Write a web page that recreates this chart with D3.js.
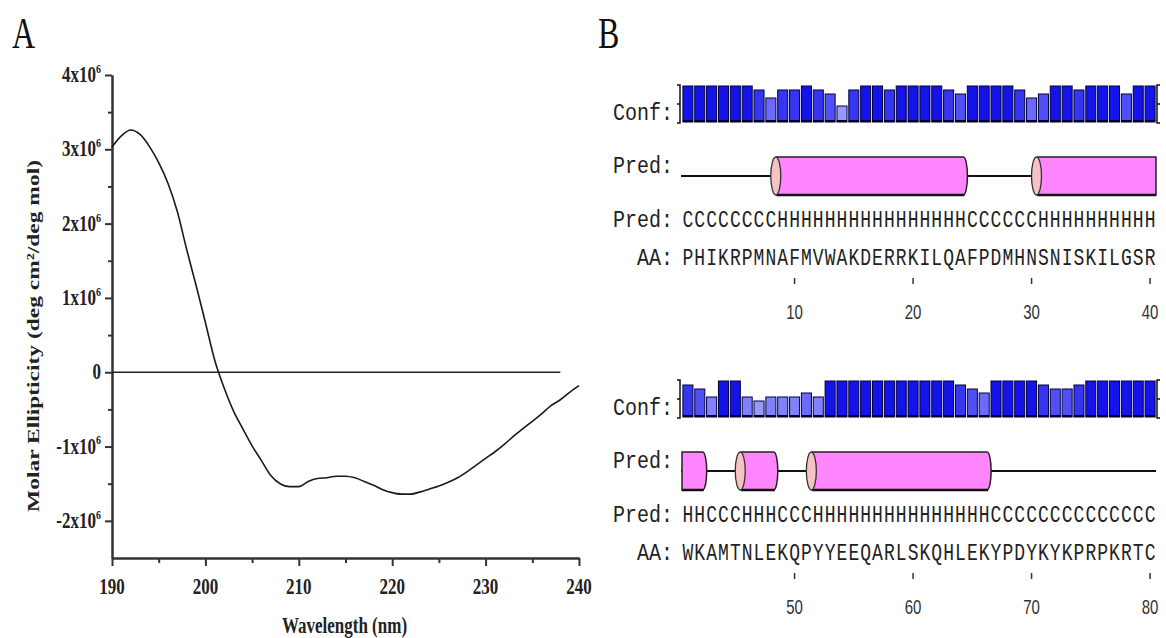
<!DOCTYPE html>
<html>
<head>
<meta charset="utf-8">
<script src="https://cdn.jsdelivr.net/npm/d3@7"></script>
<style>
  body { margin: 0; background: #fff; }
  svg { display: block; }
</style>
</head>
<body>
<svg id="fig" width="1166" height="638"></svg>
<script>
// ---- panel A data: CD spectrum ----
var wavelength = [190,191,192,193,194,195,196,197,198,199,
                  200,201,202,203,204,205,206,207,208,209,
                  210,211,212,213,214,215,216,217,218,219,
                  220,221,222,223,224,225,226,227,228,229,
                  230,231,232,233,234,235,236,237,238,239,240];
var ellipticity = [3.03e6,3.18e6,3.26e6,3.20e6,3.04e6,2.82e6,2.54e6,2.16e6,1.65e6,1.17e6,
                   0.67e6,0.16e6,-0.21e6,-0.52e6,-0.76e6,-0.99e6,-1.19e6,-1.39e6,-1.50e6,-1.54e6,
                   -1.54e6,-1.47e6,-1.43e6,-1.42e6,-1.40e6,-1.40e6,-1.42e6,-1.47e6,-1.52e6,-1.58e6,
                   -1.62e6,-1.64e6,-1.64e6,-1.61e6,-1.57e6,-1.53e6,-1.48e6,-1.42e6,-1.34e6,-1.25e6,
                   -1.16e6,-1.07e6,-0.97e6,-0.86e6,-0.76e6,-0.66e6,-0.56e6,-0.45e6,-0.37e6,-0.27e6,-0.18e6];
var xTicks = [190,200,210,220,230,240];
var xMinor = [195,205,215,225,235];
var yTicks = [-2e6,-1e6,0,1e6,2e6,3e6,4e6];
var yMinor = [-1.5e6,-0.5e6,0.5e6,1.5e6,2.5e6,3.5e6];
var zeroLine = [190, 238];

// ---- panel B data: secondary structure prediction ----
var aaRow1   = "PHIKRPMNAFMVWAKDERRKILQAFPDMHNSNISKILGSR";
var predRow1 = "CCCCCCCCHHHHHHHHHHHHHHHHCCCCCCHHHHHHHHHH";
var confRow1 = [9,9,9,9,9,9,8,6,8,8, 9,8,7,4,8,9,9,8,9,9,
                9,9,8,7,9,9,9,9,8,6, 7,9,9,8,9,9,9,7,9,9];
var tickRow1 = [10,20,30,40];
var aaRow2   = "WKAMTNLEKQPYYEEQARLSKQHLEKYPDYKYKPRPKRTC";
var predRow2 = "HHCCCHHHCCCHHHHHHHHHHHHHHHCCCCCCCCCCCCCC";
var confRow2 = [8,7,5,9,9,5,4,5,5,5, 6,5,9,9,9,9,9,9,9,9,
                9,9,9,8,7,6,9,9,9,9, 8,7,7,8,9,9,9,9,9,9];
var tickRow2 = [50,60,70,80];

var svg = d3.select("#fig");
svg.append("rect").attr("width", 1166).attr("height", 638).attr("fill", "#fff");

// text squeezed like the original bitmap (taller than wide)
function tallText(parent, x, y, sy, txt) {
  return parent.append("text")
    .attr("transform", "translate(" + x + "," + y + ") scale(1," + sy + ")")
    .text(txt);
}

// panel letters
var letters = svg.append("g")
  .attr("font-family", "'Liberation Serif', 'Times New Roman', serif")
  .attr("font-size", 32).attr("fill", "#111");
tallText(letters, 12, 48, 1.4, "A");
tallText(letters, 598, 48, 1.4, "B");

// ================= panel A =================
var x = d3.scaleLinear().domain([190, 240]).range([112, 579]);
var y = d3.scaleLinear().domain([-2.5e6, 4e6]).range([558, 75]);

var gA = svg.append("g")
  .attr("font-family", "'Liberation Serif', 'Times New Roman', serif")
  .attr("font-weight", "bold").attr("fill", "#222");

function styleAxis(sel) {
  sel.selectAll("path, line").attr("stroke", "#333").attr("stroke-width", 2);
}

// x axis, minor then major ticks
gA.append("g").attr("transform", "translate(0,558)")
  .call(d3.axisBottom(x).tickValues(xMinor).tickSize(5).tickSizeOuter(0).tickFormat(""))
  .call(styleAxis);
gA.append("g").attr("transform", "translate(0,558)")
  .call(d3.axisBottom(x).tickValues(xTicks).tickSize(8).tickSizeOuter(0).tickFormat(""))
  .call(styleAxis);

// y axis
gA.append("g").attr("transform", "translate(112,0)")
  .call(d3.axisLeft(y).tickValues(yMinor).tickSize(4).tickSizeOuter(0).tickFormat(""))
  .call(styleAxis);
gA.append("g").attr("transform", "translate(112,0)")
  .call(d3.axisLeft(y).tickValues(yTicks).tickSize(7).tickSizeOuter(0).tickFormat(""))
  .call(styleAxis);

// x tick labels
xTicks.forEach(function(v) {
  tallText(gA, x(v), 594, 1.38, v).attr("font-size", 17).attr("text-anchor", "middle");
});

// y tick labels with superscript exponent
yTicks.forEach(function(v) {
  var t = gA.append("text")
    .attr("transform", "translate(101," + (y(v) + 7) + ") scale(1,1.3)")
    .attr("font-size", 17).attr("text-anchor", "end");
  if (v === 0) { t.text("0"); return; }
  t.append("tspan").text((v / 1e6) + "x10");
  t.append("tspan").attr("font-size", 10).attr("dy", -7).text("6");
});

// axis titles
gA.append("text")
  .attr("transform", "translate(39,336) rotate(-90)")
  .attr("font-size", 17).attr("text-anchor", "middle")
  .attr("textLength", 352).attr("lengthAdjust", "spacingAndGlyphs")
  .text("Molar Ellipticity (deg cm\u00B2/deg mol)");
tallText(gA, x(215) - 1, 633, 1.35, "Wavelength (nm)")
  .attr("font-size", 17).attr("text-anchor", "middle");

// zero line
gA.append("line")
  .attr("x1", x(zeroLine[0])).attr("x2", x(zeroLine[1]))
  .attr("y1", y(0)).attr("y2", y(0))
  .attr("stroke", "#222").attr("stroke-width", 1.6);

// the spectrum
var spectrum = wavelength.map(function(w, i) { return {w: w, v: ellipticity[i]}; });
var cdLine = d3.line()
  .x(function(d) { return x(d.w); })
  .y(function(d) { return y(d.v); })
  .curve(d3.curveMonotoneX);
gA.append("path").datum(spectrum)
  .attr("d", cdLine)
  .attr("fill", "none").attr("stroke", "#1a1a1a").attr("stroke-width", 1.6);

// ================= panel B =================
var rowTop = [86, 381];
var rowLeft = 682, rowRight = 1156;
var predAll = predRow1 + predRow2;
var rows = [
  {first: 1,  aa: aaRow1, pred: predRow1, conf: confRow1, ticks: tickRow1},
  {first: 41, aa: aaRow2, pred: predRow2, conf: confRow2, ticks: tickRow2}
];

var confColor = d3.scaleLinear()
  .domain([4, 6, 8, 9])
  .range(["#9898ff", "#6a6aff", "#3535f2", "#1414ea"])
  .clamp(true);

var mono = "'Liberation Mono', 'Courier New', monospace";

rows.forEach(function(r, k) {
  var T = rowTop[k];
  var n = r.aa.length;
  var xb = d3.scaleBand().domain(d3.range(r.first, r.first + n)).range([rowLeft, rowRight]);
  var bw = xb.bandwidth();
  var cy = d3.scaleLinear().domain([0, 9]).range([T + 36, T]);
  var g = svg.append("g");

  // row labels
  var lab = g.append("g").attr("font-family", mono).attr("font-size", 20)
    .attr("fill", "#222").attr("text-anchor", "end");
  tallText(lab, 673, T + 34, 1.15, "Conf:");
  tallText(lab, 673, T + 87, 1.15, "Pred:");
  tallText(lab, 673, T + 141, 1.15, "Pred:");
  tallText(lab, 673, T + 179, 1.15, "AA:");

  // confidence brackets
  var bl = rowLeft - 2, br = rowRight + 1;
  g.append("path")
    .attr("d", "M" + (bl - 3) + "," + (T - 1) + "H" + bl + "V" + (T + 37) + "H" + (bl - 3) +
               "M" + (bl - 3) + "," + (T + 18) + "H" + bl)
    .attr("fill", "none").attr("stroke", "#111").attr("stroke-width", 1.5);
  g.append("path")
    .attr("d", "M" + (br + 3) + "," + (T - 1) + "H" + br + "V" + (T + 37) + "H" + (br + 3) +
               "M" + (br + 3) + "," + (T + 18) + "H" + br)
    .attr("fill", "none").attr("stroke", "#111").attr("stroke-width", 1.5);

  // confidence bars
  g.selectAll("rect.conf").data(r.conf).enter().append("rect")
    .attr("class", "conf")
    .attr("x", function(d, i) { return xb(r.first + i) + 0.9; })
    .attr("width", bw - 1.8)
    .attr("y", function(d) { return cy(d); })
    .attr("height", function(d) { return T + 36 - cy(d); })
    .attr("fill", function(d) { return confColor(d); })
    .attr("stroke", "#00003a").attr("stroke-width", 1);
  g.selectAll("line.shade").data(r.conf).enter().append("line")
    .attr("x1", function(d, i) { return xb(r.first + i) + 0.9; })
    .attr("x2", function(d, i) { return xb(r.first + i) + bw - 0.9; })
    .attr("y1", T + 35).attr("y2", T + 35)
    .attr("stroke", "#000028").attr("stroke-width", 2);

  // coil line
  var mid = T + 90, cTop = T + 71, cBot = T + 109;
  g.append("line")
    .attr("x1", rowLeft - 1).attr("x2", rowRight)
    .attr("y1", mid).attr("y2", mid)
    .attr("stroke", "#111").attr("stroke-width", 2);

  // helix runs from the prediction string
  var segs = [], cur = null;
  for (var i = 0; i < n; i++) {
    if (r.pred[i] === "H") {
      if (!cur) { cur = {a: i, b: i}; segs.push(cur); } else cur.b = i;
    } else cur = null;
  }
  segs.forEach(function(s) {
    var ga = r.first - 1 + s.a, gb = r.first - 1 + s.b;
    var startCap = !(ga > 0 && predAll[ga - 1] === "H" && s.a === 0);
    var endCap = !(gb < predAll.length - 1 && predAll[gb + 1] === "H" && s.b === n - 1);
    var x0 = xb(r.first + s.a), x1 = xb(r.first + s.b) + bw;
    if (endCap) x1 -= 3;
    var d = "M" + x0 + "," + cTop + "H" + x1 +
            (endCap ? "A4,19 0 0 1 " + x1 + "," + cBot : "V" + cBot) +
            "H" + x0 + "Z";
    g.append("path").attr("d", d)
      .attr("fill", "#ff86ff").attr("stroke", "#222").attr("stroke-width", 1.5);
    g.append("line")
      .attr("x1", x0).attr("x2", endCap ? x1 + 1 : x1)
      .attr("y1", cBot).attr("y2", cBot)
      .attr("stroke", "#111").attr("stroke-width", 2.5);
    if (startCap) {
      g.append("ellipse")
        .attr("cx", x0 - 1).attr("cy", mid).attr("rx", 5).attr("ry", 19)
        .attr("fill", "#f6c2c2").attr("stroke", "#333").attr("stroke-width", 1.3);
    }
  });

  // sequence letters, one per residue cell
  var seq = g.append("g").attr("font-family", mono).attr("font-size", 18)
    .attr("fill", "#222").attr("text-anchor", "middle");
  r.pred.split("").forEach(function(c, i) {
    tallText(seq, xb(r.first + i) + bw / 2, T + 141, 1.3, c);
  });
  r.aa.split("").forEach(function(c, i) {
    tallText(seq, xb(r.first + i) + bw / 2, T + 179, 1.3, c);
  });

  // residue number ticks
  r.ticks.forEach(function(v) {
    var cx = xb(v) + bw / 2;
    g.append("line").attr("x1", cx).attr("x2", cx)
      .attr("y1", T + 192).attr("y2", T + 198)
      .attr("stroke", "#333").attr("stroke-width", 1.5);
    tallText(g, cx, T + 233, 1.4, v)
      .attr("font-family", "'Liberation Sans', Arial, sans-serif")
      .attr("font-size", 15).attr("fill", "#333").attr("text-anchor", "middle");
  });
});
</script>
</body>
</html>
